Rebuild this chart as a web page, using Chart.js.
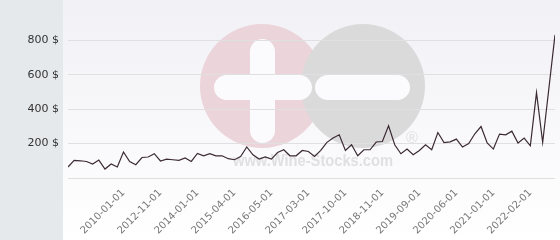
<!DOCTYPE html>
<html>
<head>
<meta charset="utf-8">
<script src="https://cdn.jsdelivr.net/npm/chart.js@4.4.1/dist/chart.umd.min.js"></script>
<style>
    body { margin: 0; background: #fff; }
    #wrap { position: relative; width: 560px; height: 240px; }
</style>
</head>
<body>
<div id="wrap"><canvas id="priceChart"></canvas></div>
<script>
// price per auction, in $, oldest first
var prices = [64, 102, 100, 96, 81, 104, 52, 81, 64, 151,
    96, 77, 119, 122, 141, 99, 110, 106, 102, 116,
    96, 143, 129, 141, 129, 129, 112, 106, 125, 180,
    135, 110, 122, 110, 148, 164, 129, 129, 160, 154,
    125, 160, 207, 232, 251, 160, 193, 129, 164, 164,
    209, 212, 303, 193, 141, 168, 135, 160, 193, 164,
    264, 206, 210, 226, 180, 200, 257, 299, 203, 168,
    255, 251, 272, 203, 232, 187, 496, 206, 518, 831];

// the dates that get a label on the x axis, and where they sit
var tickLabels = ['2010-01-01', '2012-11-01', '2014-01-01', '2015-04-01', '2016-05-01', '2017-03-01',
    '2017-10-01', '2018-11-01', '2019-09-01', '2020-06-01', '2021-01-01', '2022-02-01'];
var tickIndex = [9, 15, 21, 27, 33, 39, 45, 51, 57, 63, 69, 75];

var yTicks = [0, 200, 400, 600, 800];

function roundBar(ctx, x, y, w, h) {
    var r = Math.min(w, h) / 2;
    ctx.beginPath();
    ctx.roundRect(x, y, w, h, r);
    ctx.fill();
}

// grey side panel, soft background and the site watermark
var backdrop = {
    id: 'backdrop',
    beforeDraw: function (chart) {
        var ctx = chart.ctx;
        ctx.save();
        var g = ctx.createLinearGradient(0, 0, 0, 240);
        g.addColorStop(0, '#f1f1f6');
        g.addColorStop(1, '#ffffff');
        ctx.fillStyle = g;
        ctx.fillRect(0, 0, 560, 240);
        ctx.fillStyle = '#e6e9ec';
        ctx.fillRect(0, 0, 63, 240);

        ctx.fillStyle = '#ebd4da';
        ctx.beginPath();
        ctx.arc(262, 86, 62, 0, Math.PI * 2);
        ctx.fill();
        ctx.fillStyle = '#dadada';
        ctx.beginPath();
        ctx.arc(363, 86, 62, 0, Math.PI * 2);
        ctx.fill();

        ctx.fillStyle = '#fbfbfd';
        roundBar(ctx, 250, 39, 25, 104);
        roundBar(ctx, 214, 75, 98, 25);
        roundBar(ctx, 315, 75, 95, 25);

        ctx.fillStyle = '#e0e0e3';
        ctx.font = 'bold 17px "Liberation Sans"';
        ctx.textBaseline = 'middle';
        ctx.textAlign = 'left';
        ctx.fillText('www.Wine-Stocks.com', 233, 161, 160);
        ctx.font = '16px "Liberation Sans"';
        ctx.fillText('®', 406, 139);
        ctx.restore();
    }
};

Chart.defaults.font.family = '"DejaVu Sans"';

new Chart(document.getElementById('priceChart'), {
    type: 'line',
    data: {
        datasets: [{
            data: prices.map(function (p, i) { return { x: i, y: p }; }),
            borderColor: '#3b2a33',
            borderWidth: 1.2,
            pointRadius: 0,
            tension: 0,
            fill: false
        }]
    },
    options: {
        responsive: true,
        maintainAspectRatio: false,
        animation: false,
        layout: { padding: { top: 23, right: 5, left: 0, bottom: 0 } },
        plugins: {
            legend: { display: false },
            tooltip: { enabled: false }
        },
        scales: {
            x: {
                type: 'linear',
                min: 0,
                max: prices.length - 1,
                afterBuildTicks: function (scale) {
                    scale.ticks = tickIndex.map(function (v) { return { value: v }; });
                },
                afterFit: function (scale) { scale.height = 62; },
                grid: { display: false, drawTicks: false },
                border: { display: false },
                ticks: {
                    autoSkip: false,
                    minRotation: 45,
                    maxRotation: 45,
                    padding: 9,
                    color: '#777',
                    font: { size: 10 },
                    callback: function (v) { return tickLabels[tickIndex.indexOf(v)]; }
                }
            },
            y: {
                min: 0,
                max: 900,
                afterBuildTicks: function (scale) {
                    scale.ticks = yTicks.map(function (v) { return { value: v }; });
                },
                afterFit: function (scale) { scale.width = 68; },
                grid: { color: '#e0e0e3', drawTicks: false },
                border: { display: false },
                ticks: {
                    padding: 9,
                    color: '#333',
                    font: { size: 11 },
                    callback: function (v) { return v ? v + ' $' : ''; }
                }
            }
        }
    },
    plugins: [backdrop]
});
</script>
</body>
</html>
